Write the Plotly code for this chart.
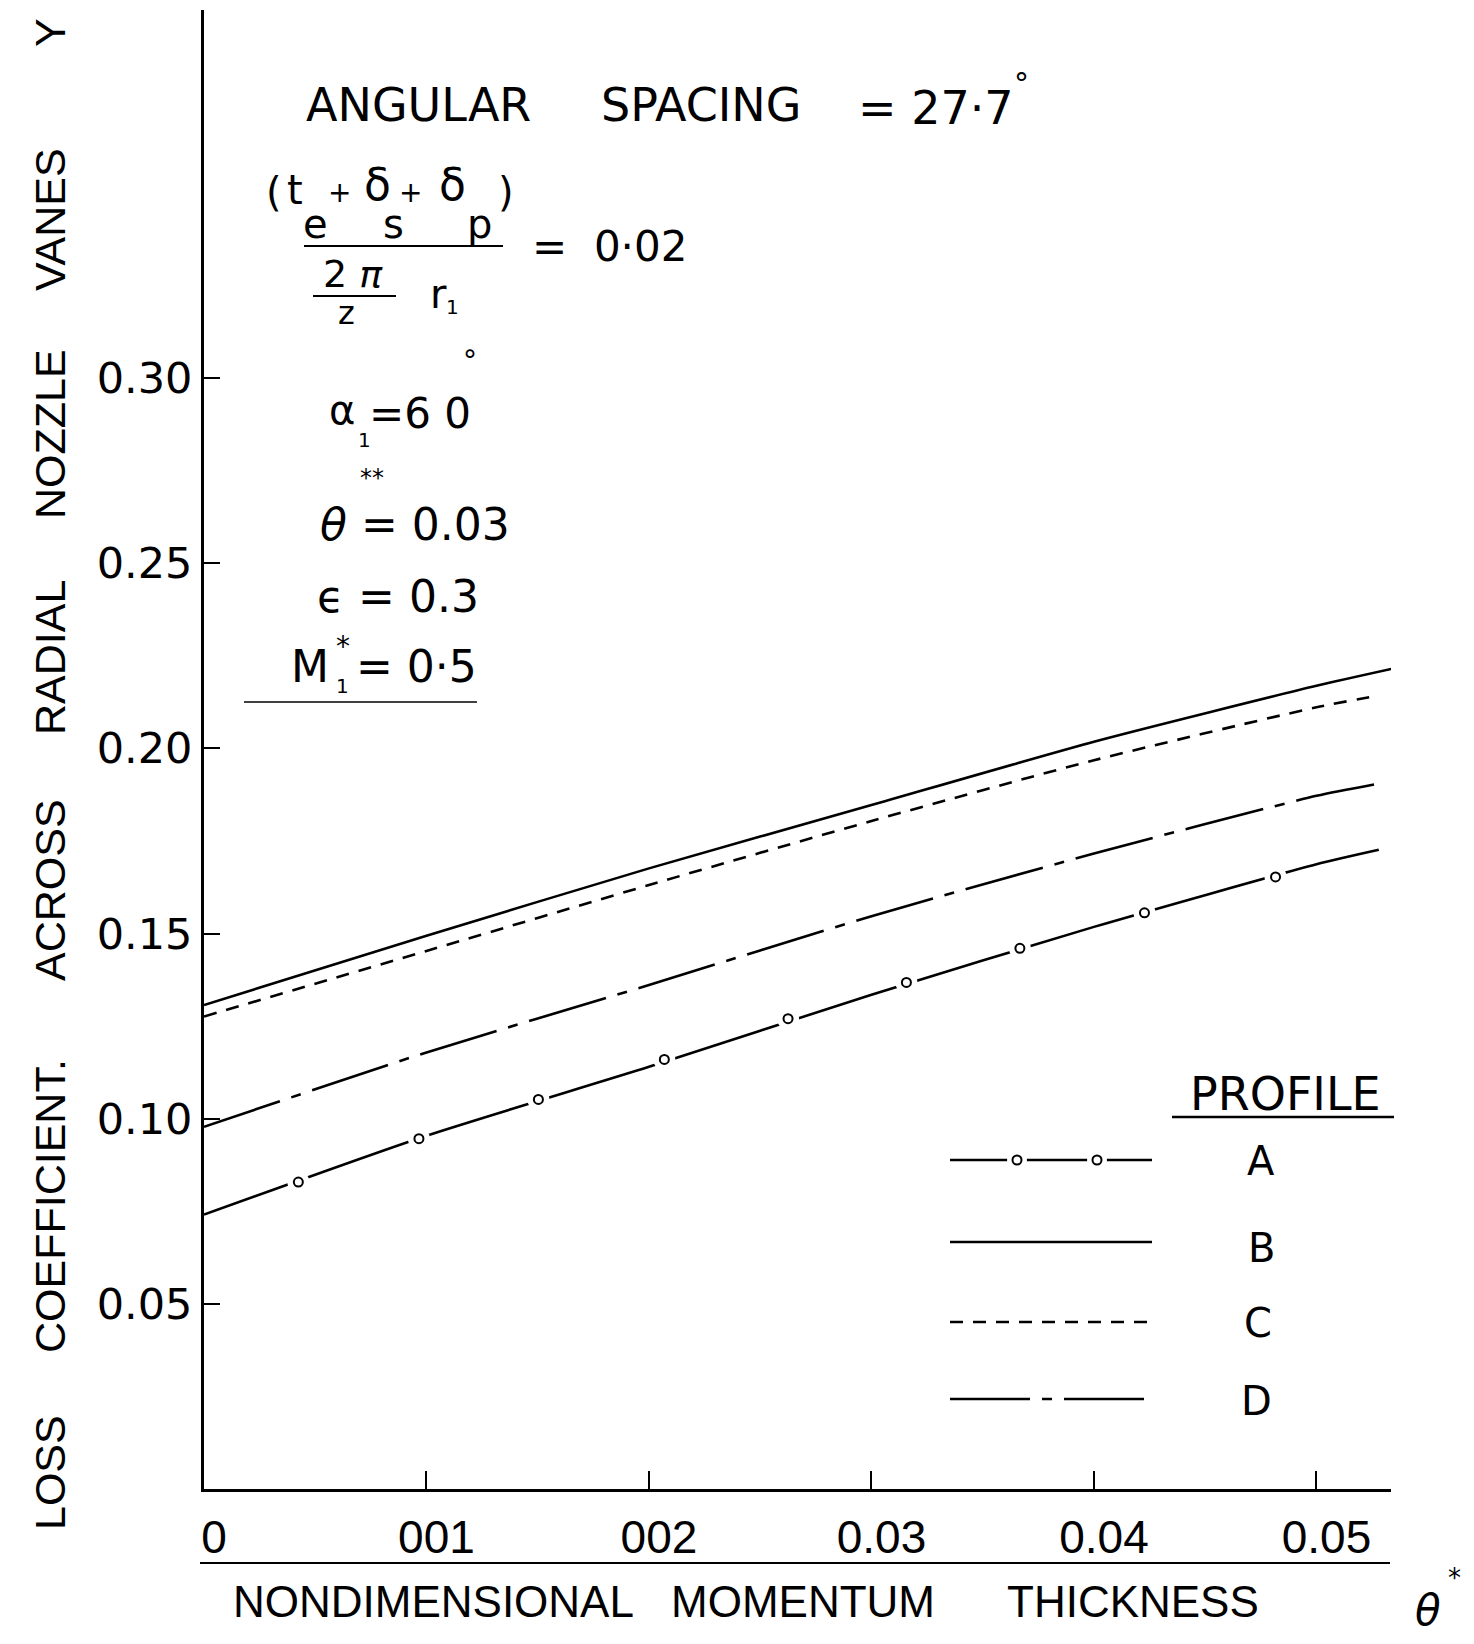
import plotly.graph_objects as go

# ---------------- data ----------------
theta_x = [0.0, 0.01, 0.02, 0.03, 0.04, 0.05]
end_B = 0.0534
end_ACD = 0.0528

profile_A = [0.0741, 0.0954, 0.1140, 0.1335, 0.1518, 0.1687, 0.1726]
profile_B = [0.1307, 0.1494, 0.1676, 0.1847, 0.2018, 0.2169, 0.2215]
profile_C = [0.1276, 0.1453, 0.1631, 0.1804, 0.1968, 0.2111, 0.2143]
profile_D = [0.0978, 0.1179, 0.1361, 0.1547, 0.1716, 0.1872, 0.1905]

marker_A_x = [0.00424, 0.00966, 0.01503, 0.02069, 0.02625, 0.03157, 0.03667, 0.04227, 0.04816]
marker_A_y = [0.0829, 0.0946, 0.1052, 0.1160, 0.1270, 0.1368, 0.1460, 0.1556, 0.1653]

x_tickvals = [0, 0.01, 0.02, 0.03, 0.04, 0.05]
x_ticktext = ["0", "001", "002", "0.03", "0.04", "0.05"]
y_tickvals = [0.05, 0.10, 0.15, 0.20, 0.25, 0.30]
y_ticktext = ["0.05", "0.10", "0.15", "0.20", "0.25", "0.30"]

profile_names = ["A", "B", "C", "D"]

# ---------------- layout geometry ----------------
W, H = 1474, 1644
PL, PR, PT, PB = 204, 83, 10, 155
PW, PH = W - PL - PR, H - PT - PB
XMAX = 0.05335
YMAX = 0.3994


def P(xpx, ypx):
    return (xpx - PL) / PW, 1 - (ypx - PT) / PH


def DX(xpx):
    return (xpx - PL) / PW * XMAX


def DY(ypx):
    return (1 - (ypx - PT) / PH) * YMAX


BLACK = "black"
LW = 2.6
DASH_C = "13px,10px"
DASH_D = "80px,12px,10px,12px"

fig = go.Figure()

xs_B = theta_x + [end_B]
xs_ACD = theta_x + [end_ACD]

fig.add_trace(go.Scatter(x=xs_B, y=profile_B, mode="lines", line=dict(color=BLACK, width=LW, shape="spline", smoothing=0.6)))
fig.add_trace(go.Scatter(x=xs_ACD, y=profile_C, mode="lines", line=dict(color=BLACK, width=LW, dash=DASH_C, shape="spline", smoothing=0.6)))
fig.add_trace(go.Scatter(x=xs_ACD, y=profile_D, mode="lines", line=dict(color=BLACK, width=LW, dash=DASH_D, shape="spline", smoothing=0.6)))
fig.add_trace(go.Scatter(x=xs_ACD, y=profile_A, mode="lines", line=dict(color=BLACK, width=LW, shape="spline", smoothing=0.6)))
# gaps and small open circles on A
fig.add_trace(go.Scatter(x=marker_A_x, y=marker_A_y, mode="markers",
                         marker=dict(symbol="circle", size=22, color="white", line=dict(width=0))))
fig.add_trace(go.Scatter(x=marker_A_x, y=marker_A_y, mode="markers",
                         marker=dict(symbol="circle", size=9, color="white", line=dict(width=2, color=BLACK))))

# ---------------- legend samples ----------------
leg_x0, leg_x1 = 950, 1152
leg_rows = {"A": 1160, "B": 1242, "C": 1322, "D": 1399}
leg_dash = {"A": "solid", "B": "solid", "C": DASH_C, "D": DASH_D}
for name in profile_names:
    yy = DY(leg_rows[name])
    fig.add_trace(go.Scatter(x=[DX(leg_x0), DX(leg_x1)], y=[yy, yy], mode="lines",
                             line=dict(color=BLACK, width=LW, dash=leg_dash[name])))
leg_circ_x = [DX(1017), DX(1097)]
fig.add_trace(go.Scatter(x=leg_circ_x, y=[DY(1160)] * 2, mode="markers",
                         marker=dict(symbol="circle", size=20, color="white", line=dict(width=0))))
fig.add_trace(go.Scatter(x=leg_circ_x, y=[DY(1160)] * 2, mode="markers",
                         marker=dict(symbol="circle", size=9, color="white", line=dict(width=2, color=BLACK))))

# ---------------- annotations ----------------
annotations = []


def ann(text, xpx, ypx, size, family="DejaVu Sans", angle=0, xanchor="center"):
    px, py = P(xpx, ypx)
    annotations.append(dict(text=text, x=px, y=py, xref="paper", yref="paper",
                            xanchor=xanchor, yanchor="middle", showarrow=False,
                            textangle=angle, font=dict(family=family, size=size, color=BLACK)))


# header
ann("ANGULAR", 418, 105, 46)
ann("SPACING", 701, 105, 46)
ann("= 27·7", 936, 108, 46)
ann("°", 1021, 84, 30)

# fraction
ann("(", 274, 192, 40)
ann("t", 295, 190, 40)
ann("+", 339, 192, 28)
ann("δ", 377, 184, 44)
ann("+", 410, 192, 28)
ann("δ", 452, 184, 44)
ann(")", 506, 192, 40)
ann("e", 315, 224, 40)
ann("s", 393, 224, 40)
ann("p", 479, 224, 40)
ann("=\u00a0\u00a00·02", 609, 246, 42)
ann("2 <i>π</i>", 353, 274, 38)
ann("z", 346, 313, 32)
ann("r", 438, 294, 40)
ann("1", 452, 307, 20)

# parameters
ann("α", 342, 410, 40)
ann("1", 364, 440, 20)
ann("=6 0", 420, 414, 42)
ann("°", 470, 360, 28)
ann("**", 372, 478, 24)
ann("<i>θ</i> = 0.03", 415, 524, 44)
ann("ϵ = 0.3", 398, 596, 44)
ann("M", 310, 666, 44)
ann("*", 343, 646, 28)
ann("1", 342, 686, 20)
ann("= 0·5", 416, 666, 44)

# legend
ann("PROFILE", 1285, 1094, 46)
leg_lab = {"A": (1261, 1161), "B": (1261, 1248), "C": (1258, 1323), "D": (1256, 1401)}
for name in profile_names:
    ann(name, leg_lab[name][0], leg_lab[name][1], 40)

# y title (word by word, rotated)
for word, yc in [("LOSS", 1473), ("COEFFICIENT.", 1206), ("ACROSS", 890), ("RADIAL", 658),
                 ("NOZZLE", 434), ("VANES", 220), ("Y", 33)]:
    ann(word, 50, yc, 43, family="Liberation Sans", angle=-90)

# x title
ann("NONDIMENSIONAL", 433, 1601, 44, family="Liberation Sans")
ann("MOMENTUM", 803, 1601, 44, family="Liberation Sans")
ann("THICKNESS", 1133, 1601, 44, family="Liberation Sans")
ann("<i>θ</i>", 1428, 1610, 42)
ann("*", 1454, 1578, 26)

# ---------------- decorative rules ----------------
shapes = []


def hline(x0, x1, ypx, width):
    a0, b0 = P(x0, ypx)
    a1, _ = P(x1, ypx)
    shapes.append(dict(type="line", xref="paper", yref="paper", x0=a0, x1=a1, y0=b0, y1=b0,
                       line=dict(color=BLACK, width=width)))


hline(304, 503, 246, 2)      # main fraction bar
hline(313, 396, 296, 2)      # 2π / z bar
hline(244, 477, 702, 1.5)    # under M1*
hline(1172, 1394, 1117, 2.5)  # under PROFILE
hline(200, 1390, 1563, 2)    # rule under x tick labels

fig.update_layout(
    width=W, height=H, autosize=False,
    margin=dict(l=PL, r=PR, t=PT, b=PB, pad=0),
    paper_bgcolor="white", plot_bgcolor="white",
    showlegend=False,
    annotations=annotations,
    shapes=shapes,
    xaxis=dict(range=[0, XMAX], showgrid=False, zeroline=False, showline=True,
               linecolor=BLACK, linewidth=3, ticks="inside", ticklen=18, tickwidth=2,
               tickcolor=BLACK, tickvals=x_tickvals, ticktext=x_ticktext,
               tickfont=dict(family="Liberation Sans", size=46, color=BLACK),
               ticklabelstandoff=6, ticklabelshift=10),
    yaxis=dict(range=[0, YMAX], showgrid=False, zeroline=False, showline=True,
               linecolor=BLACK, linewidth=3, ticks="inside", ticklen=16, tickwidth=2,
               tickcolor=BLACK, tickvals=y_tickvals, ticktext=y_ticktext,
               tickfont=dict(family="DejaVu Sans", size=43, color=BLACK),
               ticklabelstandoff=0),
)

fig.write_html("out.html")
